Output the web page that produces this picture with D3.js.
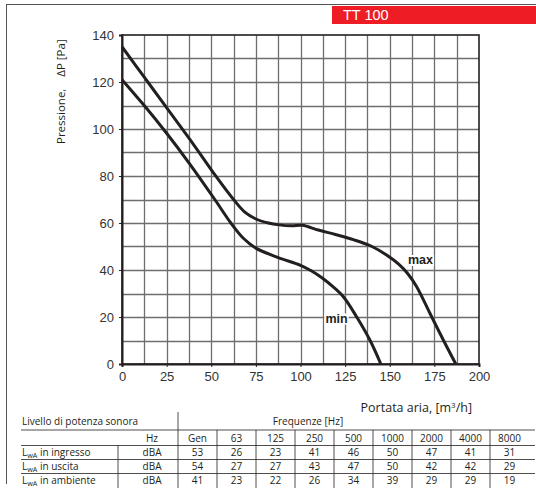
<!DOCTYPE html>
<html><head><meta charset="utf-8">
<script src="https://cdn.jsdelivr.net/npm/d3@7"></script>
<style>body{margin:0;background:#fff}svg{display:block}</style>
</head><body>
<script>
// ---- data ----
const maxFlow = [0,13,26,40,53,62.5,69,75,82,88,95,101,110,120,130,140,148,155,160,165,172.5,180,187];
const maxPress = [135,121.5,108,93.5,79.5,70,64.5,61.7,60,59.2,58.8,59,57,55,52.8,50,46.5,42.5,38.5,33,21.6,10.2,0];
const minFlow = [0,12,25,38,52,61,68,75,87.5,100,106,112,118,124,131.5,139,145];
const minPress = [121,110.4,98.2,85.1,70,60,53.5,49.3,45.3,42,39.7,36.7,33,28.6,20,10,0];
const xTicks = [0,25,50,75,100,125,150,175,200];
const yTicks = [0,20,40,60,80,100,120,140];
const xGrid = [12.5,25,37.5,50,62.5,75,87.5,100,112.5,125,137.5,150,162.5,175,187.5];
const yGrid = [10,20,30,40,50,60,70,80,90,100,110,120,130];
const title = "TT 100";
const freqHeaders = ["Gen","63","125","250","500","1000","2000","4000","8000"];
const rowLabels = ["in ingresso","in uscita","in ambiente"];
const lwaIngresso = [53,26,23,41,46,50,47,41,31];
const lwaUscita = [54,27,27,43,47,50,42,42,29];
const lwaAmbiente = [41,23,22,26,34,39,29,29,19];

const W=536,H=492;
const svg=d3.select("body").append("svg").attr("width",W).attr("height",H);
const ink="#231f20";

// frame
svg.append("line").attr("x1",6).attr("x2",W).attr("y1",4.5).attr("y2",4.5).attr("stroke","#555").attr("stroke-width",1);
svg.append("line").attr("x1",6.5).attr("x2",6.5).attr("y1",4).attr("y2",484).attr("stroke","#555").attr("stroke-width",1);

// title banner
svg.append("rect").attr("x",332).attr("y",6).attr("width",W-332).attr("height",18).attr("fill","#ee1d25");
svg.append("text").attr("x",343).attr("y",20).attr("fill","#fff").attr("font-family","Liberation Sans, Arial, sans-serif").attr("font-size",14.5).text(title);

const xs=d3.scaleLinear().domain([0,200]).range([122,479]);
const ys=d3.scaleLinear().domain([0,140]).range([364,35]);

// grid as a single path
const gp=d3.path();
xGrid.forEach(d=>{const px=Math.round(xs(d))+0.5; gp.moveTo(px,ys(0)); gp.lineTo(px,ys(140));});
yGrid.forEach(d=>{const py=Math.round(ys(d))+0.5; gp.moveTo(xs(0),py); gp.lineTo(xs(200),py);});
svg.append("path").attr("d",gp.toString()).attr("fill","none").attr("stroke","#6e6e6e").attr("stroke-width",1.3);

// border
svg.append("rect").attr("x",xs(0)).attr("y",ys(140)).attr("width",xs(200)-xs(0)).attr("height",ys(0)-ys(140))
 .attr("fill","none").attr("stroke",ink).attr("stroke-width",1.6);

// axes
const xa=svg.append("g").attr("transform",`translate(0,${ys(0)})`)
 .call(d3.axisBottom(xs).tickValues(xTicks).tickSize(3).tickPadding(5));
const ya=svg.append("g").attr("transform",`translate(${xs(0)},0)`)
 .call(d3.axisLeft(ys).tickValues(yTicks).tickSize(3).tickPadding(5));
[xa,ya].forEach(a=>{
  a.select(".domain").attr("stroke",ink).attr("stroke-width",2);
  a.selectAll(".tick line").attr("stroke",ink).attr("stroke-width",1);
  a.selectAll(".tick text").attr("fill","#333").attr("font-size",13).attr("font-family","Liberation Sans, Arial, sans-serif");
});

// curves
const lineGen=d3.line().x(d=>xs(d[0])).y(d=>ys(d[1])).curve(d3.curveCatmullRom.alpha(0.5));
svg.append("path").datum(maxFlow.map((f,i)=>[f,maxPress[i]])).attr("d",lineGen)
 .attr("fill","none").attr("stroke",ink).attr("stroke-width",3);
svg.append("path").datum(minFlow.map((f,i)=>[f,minPress[i]])).attr("d",lineGen)
 .attr("fill","none").attr("stroke",ink).attr("stroke-width",3);

// curve labels
function lab(t,cx,by){
  const tx=svg.append("text").attr("x",cx).attr("y",by).attr("text-anchor","middle")
   .attr("font-family","Liberation Sans, Arial, sans-serif").attr("font-weight","bold").attr("font-size",12.5).attr("fill",ink).text(t);
  const b=tx.node().getBBox();
  svg.insert("rect",()=>tx.node()).attr("x",b.x-1).attr("y",b.y+2).attr("width",b.width+2).attr("height",b.height-3).attr("fill","#fff");
}
lab("max",420.5,264);
lab("min",336.5,322.5);

// axis titles
svg.append("text").attr("transform","translate(65,144) rotate(-90)")
 .attr("font-family","Open Sans, sans-serif").attr("font-size",11.5).attr("fill",ink)
 .attr("xml:space","preserve").text("Pressione,    \u0394P [Pa]");
const xt=svg.append("text").attr("x",472).attr("y",412).attr("text-anchor","end")
 .attr("font-family","Open Sans, sans-serif").attr("font-size",12.5).attr("fill",ink);
xt.append("tspan").text("Portata aria, [m");
xt.append("tspan").attr("font-size",8).attr("dy",-4).text("3");
xt.append("tspan").attr("dy",4).text("/h]");

// table
const tf="Open Sans, sans-serif", ts=10;
const tl=svg.append("g").attr("font-family",tf).attr("font-size",ts).attr("fill",ink);
const colX0=178, colW=39, right=535, left=21;
const sepLabel=118;
const yHead=425, yLine1=430, yHz=441.5, yLine2=445.5, rowH=14, yBottom=488;
function hl(yy,x1,x2){tl.append("line").attr("x1",x1).attr("x2",x2).attr("y1",yy).attr("y2",yy).attr("stroke",ink).attr("stroke-width",0.8);}
function vl(xx,y1,y2){tl.append("line").attr("x1",xx).attr("x2",xx).attr("y1",y1).attr("y2",y2).attr("stroke",ink).attr("stroke-width",0.8);}
tl.append("text").attr("x",left+1).attr("y",yHead).text("Livello di potenza sonora");
tl.append("text").attr("x",308).attr("y",yHead).attr("text-anchor","middle").text("Frequenze [Hz]");
hl(yLine1,left,right); hl(yLine2,left,right);
vl(colX0,412,yBottom);
freqHeaders.forEach((h,i)=>{
  if(i>0) vl(colX0+i*colW,yLine1,yBottom);
  tl.append("text").attr("x",colX0+i*colW+colW/2).attr("y",yHz).attr("text-anchor","middle").text(h);
});
tl.append("text").attr("x",152).attr("y",yHz).attr("text-anchor","middle").text("Hz");
vl(sepLabel,yLine2,yBottom);
const rows=[lwaIngresso,lwaUscita,lwaAmbiente];
rows.forEach((r,j)=>{
  const yb=yLine2+rowH*(j+1)-3.8;
  if(j<2) hl(yLine2+rowH*(j+1),left,right);
  const t=tl.append("text").attr("x",left+1).attr("y",yb);
  t.append("tspan").text("L");
  t.append("tspan").attr("font-size",7.2).attr("dy",2).text("wA");
  t.append("tspan").attr("dy",-2).text(" "+rowLabels[j]);
  tl.append("text").attr("x",152).attr("y",yb).attr("text-anchor","middle").text("dBA");
  r.forEach((v,i)=>tl.append("text").attr("x",colX0+i*colW+colW/2).attr("y",yb).attr("text-anchor","middle").text(v));
});
</script>
</body></html>
